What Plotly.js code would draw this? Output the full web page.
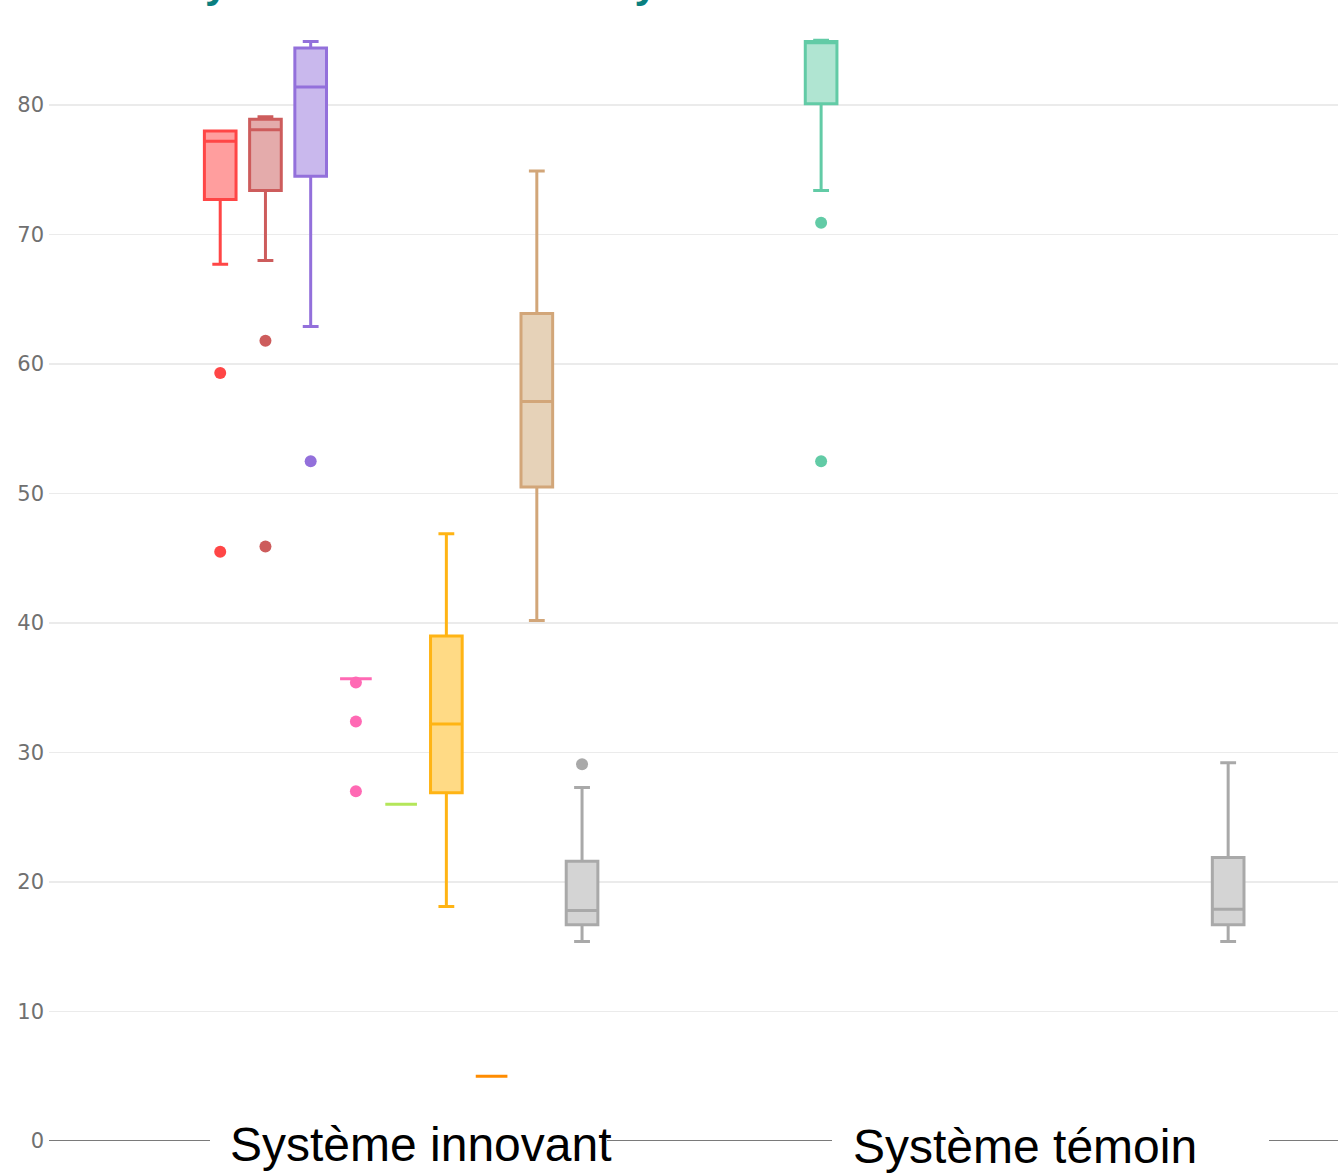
<!DOCTYPE html>
<html>
<head>
<meta charset="utf-8">
<script src="https://cdn.plot.ly/plotly-3.0.1.min.js"></script>
<style>
  html, body { margin: 0; padding: 0; background: #fff; overflow: hidden; }
  #chart { width: 1338px; height: 1174px; }
</style>
</head>
<body>
<div id="chart"></div>
<script>
// ---- Data ----
const categories = ['Système innovant', 'Système témoin'];
const titleText = 'Système innovant vs Système témoin';

const seriesNames = ['Témoin', 'Série 1', 'Série 2', 'Série 3', 'Série 4', 'Série 5', 'Série 6', 'Série 7', 'Série 8', 'Série 9'];
// category index of each box of each series
const boxCategory = [[1], [0], [0], [0], [0], [0], [0], [0], [0], [0, 1]];
const lowerFence  = [[73.4], [67.7], [68.0], [62.9], [35.7], [26.0], [18.1], [5.0], [40.2], [15.4, 15.4]];
const q1Values    = [[80.1], [72.7], [73.4], [74.5], [35.7], [26.0], [26.9], [5.0], [50.5], [16.7, 16.7]];
const medianVals  = [[84.8], [77.2], [78.1], [81.4], [35.7], [26.0], [32.2], [5.0], [57.1], [17.8, 17.9]];
const q3Values    = [[84.9], [78.0], [78.9], [84.4], [35.7], [26.0], [39.0], [5.0], [63.9], [21.6, 21.9]];
const upperFence  = [[85.0], [78.0], [79.1], [84.9], [35.7], [26.0], [46.9], [5.0], [74.9], [27.3, 29.2]];
const outlierVals = [[[70.9, 52.5]], [[59.3, 45.5]], [[61.8, 45.9]], [[52.5]], [[35.4, 32.4, 27.0]], null, null, null, null, [[29.1], []]];

const yTickVals = [0, 10, 20, 30, 40, 50, 60, 70, 80];

// ---- Styles ----
const lineColors = ['#62CBA6', '#FF4646', '#CD5C5C', '#9370DB', '#FF69B4', '#B4E65A', '#FFB414', '#FF8C00', '#D2A679', '#A9A9A9'];
const fillColors = ['#B0E5D2', '#FF9E9E', '#E4ABAB', '#C9B8ED', '#FFB4DA', '#DAF2AD', '#FFDA85', '#FFC580', '#E6D2B8', '#D4D4D4'];

const traces = seriesNames.map((name, k) => {
  const t = {
    type: 'box',
    name: name,
    x: boxCategory[k].map(c => categories[c]),
    q1: q1Values[k],
    median: medianVals[k],
    q3: q3Values[k],
    lowerfence: lowerFence[k],
    upperfence: upperFence[k],
    boxpoints: 'outliers',
    line: { color: lineColors[k], width: 3 },
    fillcolor: fillColors[k],
    marker: { color: lineColors[k], size: 12 },
    whiskerwidth: 0.5,
    showlegend: false,
    hoverinfo: 'y'
  };
  if (outlierVals[k]) t.y = outlierVals[k];
  return t;
});

const plotL = 49, plotR = 1338;
const px2paper = p => (p - plotL) / (plotR - plotL);
const axisSegments = [[49, 210], [607, 832], [1269, 1338]];

const layout = {
  width: 1338,
  height: 1174,
  margin: { l: 49, r: 0, t: 0, b: 33 },
  paper_bgcolor: '#fff',
  plot_bgcolor: '#fff',
  boxmode: 'group',
  boxgap: 0.3,
  boxgroupgap: 0.3,
  showlegend: false,
  xaxis: {
    type: 'category',
    categoryorder: 'array',
    categoryarray: categories,
    range: [-0.51, 1.485],
    showticklabels: false,
    showgrid: false,
    zeroline: false,
    showline: false,
    fixedrange: true
  },
  yaxis: {
    range: [0, 88.11],
    tickvals: yTickVals,
    ticktext: yTickVals.map(String),
    showgrid: true,
    gridcolor: '#ebebeb',
    gridwidth: 1.5,
    zeroline: false,
    showline: false,
    ticks: '',
    ticklabelstandoff: 4,
    tickfont: { family: 'DejaVu Sans', size: 21, color: '#707070' },
    fixedrange: true
  },
  shapes: axisSegments.map(s => ({
    type: 'line', xref: 'paper', yref: 'y',
    x0: px2paper(s[0]), x1: px2paper(s[1]), y0: 0, y1: 0,
    line: { color: '#7a7a7a', width: 2 },
    layer: 'above'
  })),
  annotations: [
    {
      text: categories[0], xref: 'x', yref: 'y', x: categories[0], y: 0,
      xshift: 42, yshift: -3, xanchor: 'center', yanchor: 'middle', showarrow: false,
      font: { family: 'Liberation Sans, Arial, sans-serif', size: 48, color: '#000' }
    },
    {
      text: categories[1], xref: 'x', yref: 'y', x: categories[1], y: 0,
      xshift: 0, yshift: -5, xanchor: 'center', yanchor: 'middle', showarrow: false,
      font: { family: 'Liberation Sans, Arial, sans-serif', size: 48, color: '#000' }
    },
    {
      text: '<b>' + titleText + '</b>', xref: 'paper', yref: 'paper',
      x: px2paper(175), y: 1 - 8 / 1141, xanchor: 'left', yanchor: 'bottom', showarrow: false,
      font: { family: 'Liberation Sans, Arial, sans-serif', size: 42, color: '#0A7F7F' }
    }
  ]
};

Plotly.newPlot('chart', traces, layout, { staticPlot: true, displayModeBar: false });
</script>
</body>
</html>
